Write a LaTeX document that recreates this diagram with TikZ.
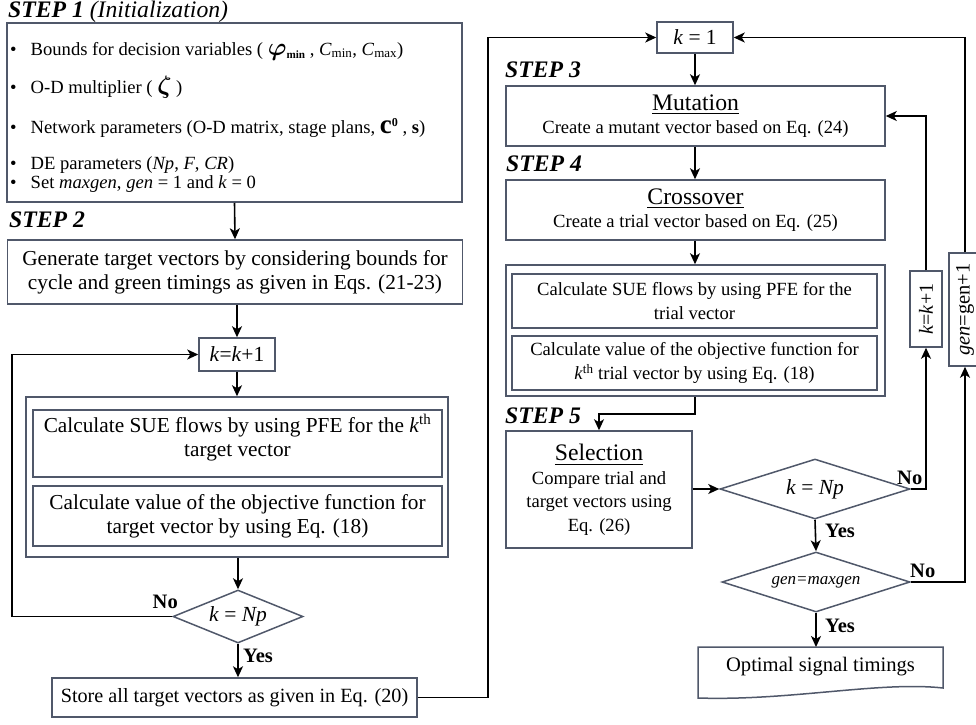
\documentclass[tikz,border=0pt]{standalone}
\usepackage{fontspec}
\setmainfont{Liberation Serif}
\usepackage{amsmath}
\usepackage{graphicx}
\usetikzlibrary{arrows.meta,shapes.geometric}
\definecolor{boxc}{RGB}{80,88,106}
\newcommand\fntStepOne{\fontsize{18.6}{23}\selectfont}
\newcommand\fntLeft{\fontsize{21.3}{24}\selectfont}
\newcommand\fntStore{\fontsize{20.2}{24}\selectfont}
\newcommand\fntRight{\fontsize{18.6}{23.5}\selectfont}
\newcommand\fntTitle{\fontsize{23.7}{23.5}\selectfont}
\newcommand\fntStep{\fontsize{23.7}{26}\selectfont\bfseries\itshape}
\newcommand\fntK{\fontsize{21.5}{24}\selectfont}
\newcommand\fntYN{\fontsize{20.5}{24}\selectfont\bfseries}
\begin{document}
\begin{tikzpicture}[x=1pt,y=-1pt,
  box/.style={draw=boxc,line width=1.5pt,rectangle,inner sep=0pt,align=center},
  dia/.style={draw=boxc,line width=1.5pt,diamond,inner sep=0pt,aspect=2.4,font=\fntK},
  arr/.style={line width=1.6pt,-{Stealth[length=11pt,width=10pt,inset=3pt]}},
  ln/.style={line width=1.6pt},
  steplbl/.style={font=\fntStep,anchor=base west,inner sep=0pt},
  bul/.style={font=\fntStepOne,anchor=base west,inner sep=0pt},
  yn/.style={font=\fntYN,inner sep=0pt},
  txt/.style={inner sep=0pt,align=center}]
\useasboundingbox (0,0) rectangle (976,724);

% ---------- STEP 1 ----------
\node[steplbl] (t1) at (8,17) {STEP 1 \textmd{(Initialization)}};
\node[box,minimum width=455pt,minimum height=179pt] (s1) at (234.5,112.5) {};
\node[bul] (b1) at (10,55) {\textbullet\hspace{14pt}Bounds for decision variables ( \scalebox{1.45}{$\boldsymbol{\varphi}$}\raisebox{-3pt}{\scalebox{0.6}{\textbf{min}}} , \textit{C}\textsubscript{min}, \textit{C}\textsubscript{max})};
\node[bul] (b2) at (10,93) {\textbullet\hspace{14pt}O-D multiplier ( \scalebox{1.45}{$\boldsymbol{\zeta}$} )};
\node[bul] (b3) at (10,133) {\textbullet\hspace{14pt}Network parameters (O-D matrix, stage plans, \scalebox{1.45}{$\mathbf{c}$}\raisebox{7pt}{\scalebox{0.65}{\textbf{0}}} , \textbf{s})};
\node[bul] (b4) at (10,169) {\textbullet\hspace{14pt}DE parameters (\textit{Np}, \textit{F}, \textit{CR})};
\node[bul] (b5) at (10,188) {\textbullet\hspace{14pt}Set \textit{maxgen}, \textit{gen} = 1 and \textit{k} = 0};

% ---------- STEP 2 ----------
\node[steplbl] (t2) at (9,227) {STEP 2};
\node[box,minimum width=455pt,minimum height=64pt,font=\fntLeft] (s2) at (235,272)
  {Generate target vectors by considering bounds for\\cycle and green timings as given in Eqs. (21-23)};
\node[box,minimum width=76pt,minimum height=33pt,font=\fntK] (kk1) at (237,354.5) {\textit{k}=\textit{k}+1};
\node[box,minimum width=422pt,minimum height=160pt] (o1) at (237,477) {};
\node[box,minimum width=409pt,minimum height=67pt] (i1) at (237.5,443.5) {};
\node[txt,font=\fntLeft] (i1t) at (237.5,437.5) {Calculate SUE flows by using PFE for the \textit{k}\textsuperscript{th}\\target vector};
\node[box,minimum width=409pt,minimum height=60pt,font=\fntLeft] (i2) at (237.5,516)
  {Calculate value of the objective function for\\target vector by using Eq. (18)};
\node[dia,minimum width=130pt,minimum height=53pt] (d1) at (238,616.5) {\textit{k} = \textit{Np}};
\node[box,minimum width=365pt,minimum height=39pt,font=\fntStore] (st) at (234.5,697.5)
  {Store all target vectors as given in Eq. (20)};

% ---------- right column ----------
\node[box,minimum width=76pt,minimum height=31pt,font=\fntK] (k1) at (695,37.5) {\textit{k} = 1};
\node[steplbl] (t3) at (505,77) {STEP 3};
\node[box,minimum width=379pt,minimum height=60pt,font=\fntRight] (mut) at (695.5,116)
  {{\fntTitle\underline{Mutation}}\\Create a mutant vector based on Eq. (24)};
\node[steplbl] (t4) at (506,171) {STEP 4};
\node[box,minimum width=379pt,minimum height=60pt,font=\fntRight] (cro) at (695.5,210)
  {{\fntTitle\underline{Crossover}}\\Create a trial vector based on Eq. (25)};
\node[box,minimum width=379pt,minimum height=131pt] (o2) at (695.5,330.5) {};
\node[box,minimum width=365pt,minimum height=54pt,font=\fntRight] (ia) at (694.5,301)
  {Calculate SUE flows by using PFE for the\\trial vector};
\node[box,minimum width=365pt,minimum height=54pt,font=\fntRight] (ib) at (694.5,363)
  {Calculate value of the objective function for\\[1pt]\textit{k}\textsuperscript{th} trial vector by using Eq. (18)};
\node[steplbl] (t5) at (505,423) {STEP 5};
\node[box,minimum width=186pt,minimum height=117pt,font=\fntRight] (sel) at (599,489.5)
  {{\fntTitle\underline{Selection}}\\Compare trial and\\target vectors using\\Eq. (26)};
\node[dia,minimum width=190pt,minimum height=60pt,aspect=3.1] (d2) at (815,489) {\textit{k} = \textit{Np}};
\node[dia,minimum width=188pt,minimum height=60pt,aspect=3.1,font=\fontsize{17}{20}\selectfont] (d3) at (816,582) {\textit{gen=maxgen}};
\node[box,minimum width=76pt,minimum height=32pt,rotate=90,font=\fontsize{20}{24}\selectfont] (kk2) at (926,309) {\textit{k}=\textit{k}+1};
\node[box,minimum width=113pt,minimum height=32pt,rotate=90,font=\fontsize{20.5}{24}\selectfont] (gen) at (965,309.5) {\textit{gen}=gen+1};
\node[txt,font=\fontsize{20.6}{24}\selectfont] (opt) at (820.5,667) {Optimal signal timings};
\coordinate (optTop) at (816,647);
\draw[draw=boxc,line width=1.5pt] (698,647) -- (943,647) -- (943,688)
  .. controls (880,681) and (790,701) .. (698,698) -- cycle;

% ---------- labels ----------
\node[yn,anchor=base east] (no1) at (178,608) {No};
\node[yn,anchor=base west] (yes1) at (243,662) {Yes};
\node[yn,anchor=base west] (no2) at (897,484) {No};
\node[yn,anchor=base west] (yes2) at (825,537) {Yes};
\node[yn,anchor=base west] (no3) at (910,577) {No};
\node[yn,anchor=base west] (yes3) at (825,632) {Yes};

% ---------- connectors ----------
\coordinate (cL) at (12,616.5);
\coordinate (cM) at (488,697.5);
\coordinate (cK) at (926,489);
\coordinate (cG) at (965,582);
\draw[arr] (s1.south) -- (s2.north);
\draw[arr] (s2.south -| kk1.north) -- (kk1.north);
\draw[arr] (kk1.south) -- (o1.north -| kk1.south);
\draw[arr] (o1.south -| d1.north) -- (d1.north);
\draw[arr] (d1.south) -- (st.north -| d1.south);
\draw[arr] (d1.west) -- (cL) |- (kk1.west);
\draw[arr] (st.east) -- (cM) |- (k1.west);
\draw[arr] (k1.south) -- (mut.north -| k1.south);
\draw[arr] (mut.south -| k1.south) -- (cro.north -| k1.south);
\draw[arr] (cro.south -| k1.south) -- (o2.north -| k1.south);
\draw[arr] (o2.south -| k1.south) -- ++(0,17) -| (sel.north);
\draw[arr] (sel.east |- d2.west) -- (d2.west);
\draw[arr] (d2.south) -- (d3.north);
\draw[arr] (d3.south) -- (optTop);
\draw[arr] (d2.east) -- (cK) -- (kk2.west);
\draw[arr] (kk2.east) |- (mut.east);
\draw[arr] (d3.east) -- (cG) -- (gen.west);
\draw[arr] (gen.east) |- (k1.east);
\end{tikzpicture}
\end{document}
